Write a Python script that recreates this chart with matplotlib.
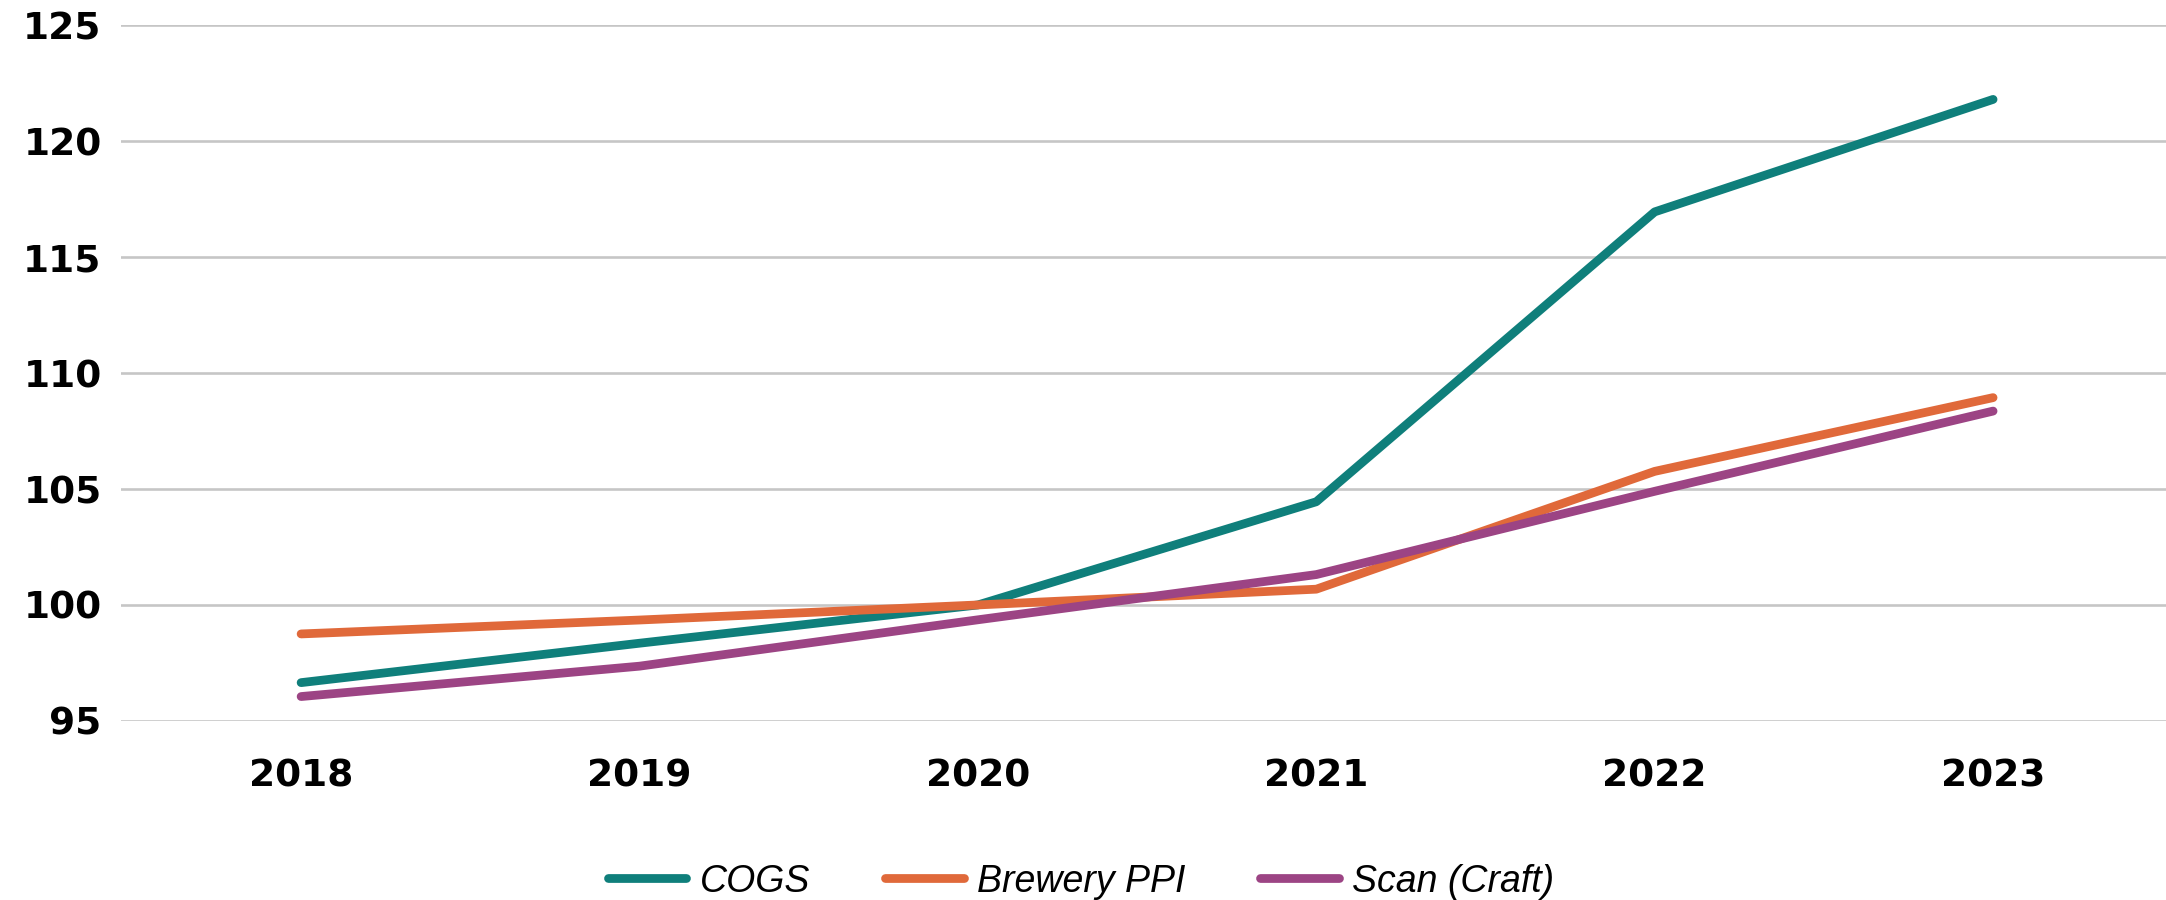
import matplotlib
matplotlib.use("Agg")
import matplotlib.pyplot as plt

years = [2018, 2019, 2020, 2021, 2022, 2023]
cogs = [96.65, 98.35, 100.0, 104.45, 116.95, 121.8]
brewery_ppi = [98.75, 99.35, 100.0, 100.68, 105.76, 108.94]
scan_craft = [96.05, 97.36, 99.36, 101.31, 104.9, 108.36]

series = [
    ("COGS", cogs, "#0f7f7b"),
    ("Brewery PPI", brewery_ppi, "#e0693a"),
    ("Scan (Craft)", scan_craft, "#9c4484"),
]
y_ticks = [95, 100, 105, 110, 115, 120, 125]


def main():
    fig = plt.figure(figsize=(21.66, 9), dpi=100)
    ax = fig.add_axes([0.0559, 0.199, 0.9441, 0.773])

    for label, values, color in series:
        ax.plot(years, values, color=color, lw=6.3, label=label,
                solid_capstyle="round", solid_joinstyle="round")

    ax.set_xlim(2017.468, 2023.511)
    ax.set_ylim(95, 125)
    ax.set_yticks(y_ticks)
    ax.set_xticks(years)
    ax.yaxis.grid(True, color="#c6c6c6", lw=1.9)
    ax.set_axisbelow(True)
    for side in ax.spines.values():
        side.set_visible(False)
    ax.tick_params(axis="both", length=0, labelsize=27, labelcolor="black")
    ax.tick_params(axis="y", pad=14)
    ax.tick_params(axis="x", pad=27)
    for t in ax.get_xticklabels() + ax.get_yticklabels():
        t.set_fontweight("bold")

    fig.legend(loc="lower center", ncol=3, frameon=False,
               bbox_to_anchor=(0.499, -0.037),
               prop={"family": "Liberation Sans", "style": "italic", "size": 27},
               handlelength=2.1, handletextpad=0.35, columnspacing=2.0)

    fig.savefig("out.png", dpi=100)


if __name__ == "__main__":
    main()
